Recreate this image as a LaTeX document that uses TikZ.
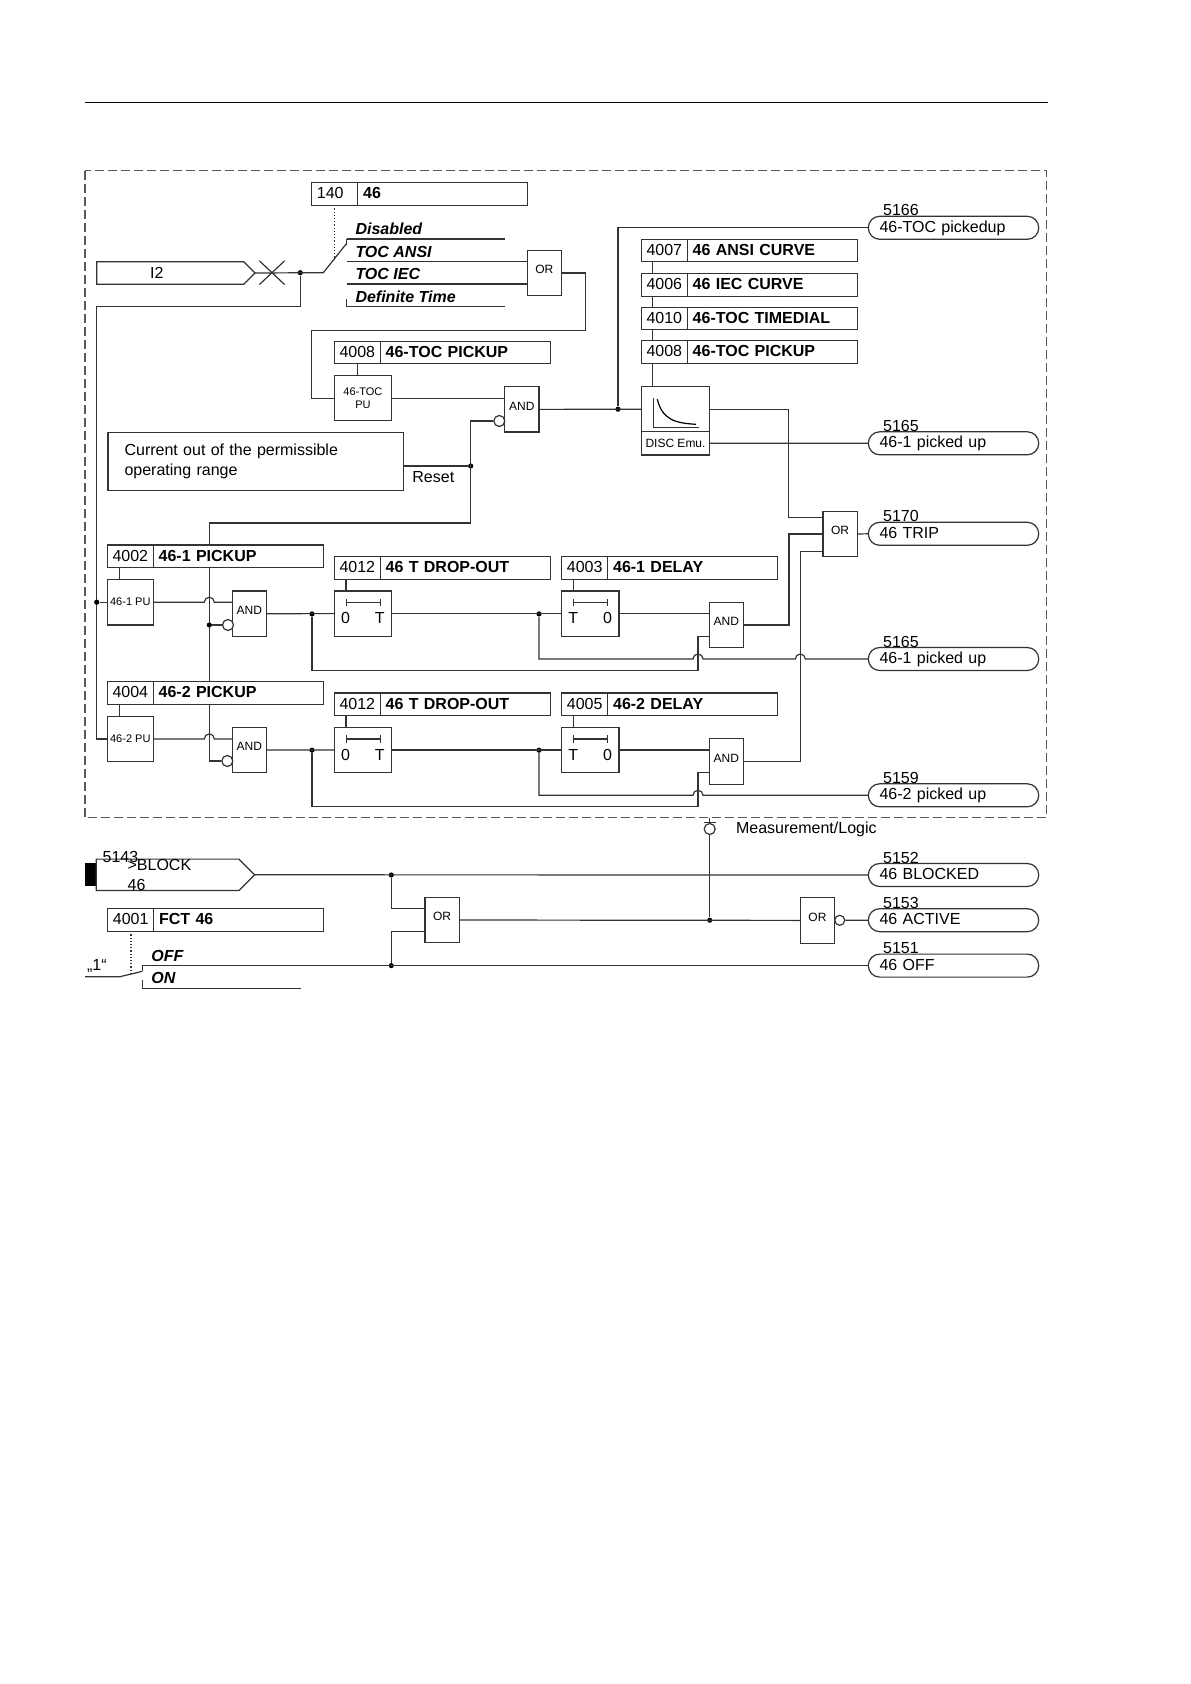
\documentclass[tikz,border=0pt]{standalone}
\usepackage{fontspec}
\setmainfont{Liberation Sans}
\usetikzlibrary{shapes.geometric, shapes.misc, shapes.symbols, arrows.meta, positioning, calc}

\begin{document}
\begin{tikzpicture}[
    x=0.5pt, y=-0.5pt,
    wire/.style={draw=black!80, line width=0.6pt},
    paramno/.style={draw=black!80, line width=0.6pt, fill=white, anchor=north west, minimum height=11.25pt,
        inner xsep=2.6pt, inner ysep=0pt, outer sep=0pt, text width=17.8pt, align=left,
        text height=5.75pt, text depth=0.9pt, font=\fontsize{8}{10}\selectfont},
    paramname/.style={draw=black!80, line width=0.6pt, fill=white, minimum height=11.25pt,
        inner xsep=2.7pt, inner ysep=0pt, outer sep=0pt, text width=79.6pt, align=left,
        text height=5.75pt, text depth=0.9pt, font=\fontsize{8}{10}\selectfont\bfseries},
    gate/.style={draw=black!80, line width=0.6pt, fill=white, anchor=north west, minimum width=17.1pt,
        minimum height=22.7pt, inner sep=0pt, outer sep=0pt, text height=4.3pt, text depth=3.6pt,
        font=\fontsize{6}{7}\selectfont},
    pubox/.style={draw=black!80, line width=0.6pt, fill=white, minimum width=23pt, minimum height=22.7pt,
        inner sep=0pt, outer sep=0pt, align=center, font=\fontsize{5.5}{6.7}\selectfont},
    timer/.style={draw=black!80, line width=0.6pt, fill=white, minimum width=28.6pt, minimum height=22.7pt,
        inner sep=0pt, outer sep=0pt, text height=10.3pt, text depth=0pt, font=\fontsize{8}{10}\selectfont},
    tmark/.style={draw=black!80, line width=0.6pt, {Bar[width=3.6pt]}-{Bar[width=3.6pt]}},
    pill/.style={draw=black!80, line width=0.6pt, rounded corners=5.7pt, anchor=west, minimum height=11.5pt,
        inner xsep=5.6pt, inner ysep=0pt, outer sep=0pt, text width=74pt, align=left,
        text height=5.75pt, text depth=1.15pt, font=\fontsize{8}{10}\selectfont},
    signo/.style={inner sep=0pt, text depth=0pt, font=\fontsize{8}{10}\selectfont},
    sigin/.style={draw=black!80, line width=0.6pt, signal, signal to=east, signal pointer angle=90, anchor=west,
        minimum width=79.15pt, minimum height=11.3pt, inner xsep=3pt, inner ysep=0pt, outer sep=0pt,
        font=\fontsize{8}{10}\selectfont},
    optlabel/.style={inner sep=0pt, text depth=0pt, font=\fontsize{8}{10}\selectfont\bfseries\itshape},
    plain/.style={inner sep=0pt, font=\fontsize{8}{10}\selectfont},
    dot/.style={circle, fill=black, inner sep=0pt, minimum size=2.6pt},
    neg/.style={circle, draw=black!80, line width=0.6pt, fill=white, inner sep=0pt, minimum size=5.5pt}
]
\useasboundingbox (0,0) rectangle (1190,1684);

% Page rule and frame
\coordinate (rulea) at (85,103);
\coordinate (ruleb) at (1048,103);
\draw[black, line width=0.5pt] (rulea) -- (ruleb);
\coordinate (framea) at (85,170.7);
\coordinate (frameb) at (1046.7,817.7);
\draw[black!65, line width=0.6pt, dash pattern=on 4.5pt off 2pt] (framea) rectangle (frameb);

% Characteristic selection
\node[paramno] (p140) at (311.7,182.7) {140};
\node[paramname, right=0pt of p140] (p140n) {46};
\node[sigin, text width=20pt] (i2) at (96.7,273) {I2};
\node[draw=black!80, line width=0.6pt, cross out, minimum width=12pt, minimum height=11.3pt, inner sep=0pt] (xm) at (272,272.7) {};
\node[dot] (j1) at (300.3,272.7) {};
\coordinate (sw1) at (323.3,272.7);
\coordinate (sw2) at (346.7,243.3);
\coordinate (c1) at (346.7,239);
\coordinate (c2) at (346.7,261.3);
\coordinate (c3) at (346.7,284);
\coordinate (c4) at (346.7,306.7);
\node[optlabel, above right=2pt and 4.2pt of c1] (ldis) {Disabled};
\node[optlabel, above right=1.9pt and 4.2pt of c2] (lansi) {TOC ANSI};
\node[optlabel, above right=1.9pt and 4.2pt of c3] (liec) {TOC IEC};
\node[optlabel, above right=1.9pt and 4.2pt of c4] (ldef) {Definite Time};
\node[gate] (or0) at (527.3,250.3) {OR};

% Pickup and disc emulation
\node[paramno] (p4008a) at (334.3,341.3) {4008};
\node[paramname, right=0pt of p4008a] (p4008an) {46-TOC PICKUP};
\node[pubox, minimum width=28.6pt, below right=5.85pt and 0pt of p4008a.south west] (tocpu) {46-TOC\\PU};
\node[gate] (and0) at (504.7,386.7) {AND};
\node[neg] (neg0) at (499.3,421) {};
\node[draw=black!80, line width=0.6pt, anchor=north west, minimum width=147.85pt, minimum height=29.2pt,
    inner xsep=8.3pt, inner ysep=0pt, text width=131.2pt, align=left, font=\fontsize{8}{10}\selectfont] (cur) at (107.3,431.7)
    {Current out of the permissible\\operating range};
\node[plain, anchor=west] (rst) at (412,476.7) {Reset};
\node[dot] (j3) at (470.7,466) {};

\node[paramno] (p4007) at (641.3,239.3) {4007};
\node[paramname, right=0pt of p4007] (p4007n) {46 ANSI CURVE};
\node[paramno, below=6pt of p4007] (p4006) {4006};
\node[paramname, right=0pt of p4006] (p4006n) {46 IEC CURVE};
\node[paramno, below=5.5pt of p4006] (p4010) {4010};
\node[paramname, right=0pt of p4010] (p4010n) {46-TOC TIMEDIAL};
\node[paramno, below=5.5pt of p4010] (p4008b) {4008};
\node[paramname, right=0pt of p4008b] (p4008bn) {46-TOC PICKUP};
\node[draw=black!80, line width=0.6pt, minimum width=34.2pt, minimum height=22.5pt, inner sep=0pt, outer sep=0pt,
    below right=11.7pt and 0pt of p4008b.south west] (disc) {};
\node[draw=black!80, line width=0.6pt, minimum width=34.2pt, minimum height=11.65pt, inner sep=0pt, outer sep=0pt,
    font=\fontsize{6}{7}\selectfont, below=0pt of disc] (emu) {DISC Emu.};
\node[dot] (j2) at (618,409.2) {};

% Outputs, upper part
\node[pill] (s5166) at (868.3,227.8) {46-TOC pickedup};
\node[signo, above right=0pt and 7.2pt of s5166.north west] (n5166) {5166};
\node[pill] (s5165a) at (868.3,443.3) {46-1 picked up};
\node[signo, above right=0pt and 7.2pt of s5165a.north west] (n5165a) {5165};
\node[pill] (s5170) at (868.3,533.8) {46 TRIP};
\node[signo, above right=0pt and 7.2pt of s5170.north west] (n5170) {5170};
\node[gate] (or1) at (823,511.3) {OR};

% Stage 46-1
\node[paramno] (p4002) at (107.3,545) {4002};
\node[paramname, right=0pt of p4002] (p4002n) {46-1 PICKUP};
\node[pubox, below right=6pt and 0pt of p4002.south west] (pu1) {46-1 PU};
\node[gate] (and1) at (232.3,591) {AND};
\node[neg] (neg1) at (228,625) {};
\node[dot] (j5) at (312,613.9) {};
\node[paramno] (p4012a) at (334.3,556.7) {4012};
\node[paramname, right=0pt of p4012a] (p4012an) {46 T DROP-OUT};
\node[timer, below right=5.85pt and 0pt of p4012a.south west] (t1) {0\hspace{12.5pt}T};
\node[dot] (j6) at (539,613.9) {};
\node[paramno] (p4003) at (561.7,556.7) {4003};
\node[paramname, right=0pt of p4003] (p4003n) {46-1 DELAY};
\node[timer, below right=5.85pt and 0pt of p4003.south west] (t2) {T\hspace{12.5pt}0};
\node[gate] (and2) at (709.3,602.3) {AND};
\node[pill] (s5165b) at (868.3,659) {46-1 picked up};
\node[signo, above right=0pt and 7.2pt of s5165b.north west] (n5165b) {5165};

% Stage 46-2
\node[paramno] (p4004) at (107.3,681.7) {4004};
\node[paramname, right=0pt of p4004] (p4004n) {46-2 PICKUP};
\node[pubox, below right=6pt and 0pt of p4004.south west] (pu2) {46-2 PU};
\node[gate] (and3) at (232.3,727.3) {AND};
\node[neg] (neg2) at (227.3,761) {};
\node[dot] (j7) at (312,750.2) {};
\node[paramno] (p4012b) at (334.3,693) {4012};
\node[paramname, right=0pt of p4012b] (p4012bn) {46 T DROP-OUT};
\node[timer, below right=5.85pt and 0pt of p4012b.south west] (t3) {0\hspace{12.5pt}T};
\node[dot] (j8) at (539,750.2) {};
\node[paramno] (p4005) at (561.7,693) {4005};
\node[paramname, right=0pt of p4005] (p4005n) {46-2 DELAY};
\node[timer, below right=5.85pt and 0pt of p4005.south west] (t4) {T\hspace{12.5pt}0};
\node[gate] (and4) at (709.3,738.7) {AND};
\node[pill] (s5159) at (868.3,795.3) {46-2 picked up};
\node[signo, above right=0pt and 7.2pt of s5159.north west] (n5159) {5159};

% Lower part
\node[neg] (neg3) at (709.7,829) {};
\node[plain, anchor=west] (mlog) at (735.7,829) {Measurement/Logic};
\coordinate (bara) at (704,822.7);
\coordinate (barb) at (715.7,822.7);
\node[fill=black, anchor=north west, minimum width=5.65pt, minimum height=11.5pt, inner sep=0pt, outer sep=0pt] (blk) at (85,863.3) {};
\node[sigin, text width=40pt, right=0pt of blk] (blk46) {>BLOCK 46};
\node[signo, anchor=south west] (n5143) at (102.3,863.3) {5143};
\node[pill] (s5152) at (868.3,875) {46 BLOCKED};
\node[signo, above right=0pt and 7.2pt of s5152.north west] (n5152) {5152};
\node[pill] (s5153) at (868.3,920.2) {46 ACTIVE};
\node[signo, above right=0pt and 7.2pt of s5153.north west] (n5153) {5153};
\node[pill] (s5151) at (868.3,965.6) {46 OFF};
\node[signo, above right=0pt and 7.2pt of s5151.north west] (n5151) {5151};
\node[gate] (or2) at (425,897.3) {OR};
\node[gate] (or3) at (800.3,897.7) {OR};
\node[neg, minimum size=5pt] (neg4) at (839.7,920.3) {};
\node[dot] (j9) at (391.3,875) {};
\node[dot] (j10) at (391.3,965.6) {};
\node[dot] (j11) at (709.7,920.2) {};
\node[paramno] (p4001) at (107.7,908.7) {4001};
\node[paramname, right=0pt of p4001] (p4001n) {FCT 46};
\coordinate (c5) at (142.3,965.6);
\coordinate (c6) at (142.3,988.3);
\coordinate (sw3) at (120,976.7);
\coordinate (sw4) at (142.3,971.3);
\coordinate (sw0) at (85,976.7);
\node[optlabel, above right=1.7pt and 4.3pt of c5] (loff) {OFF};
\node[optlabel, above right=2pt and 4.3pt of c6] (lon) {ON};
\node[plain, anchor=west] (one) at (86.7,966) {„1“};

% Selector wiring
\draw[wire] (i2.east) -- (sw1) -- (sw2);
\draw[wire, densely dotted] ([xshift=11.5pt]p140.south west) -- ++(0,53);
\draw[wire] (c1) -- ++(158.3,0);
\draw[wire] (c1) -- ++(0,6);
\draw[wire] (c2) -- (c2 -| or0.west);
\draw[wire] (c3) -- (c3 -| or0.west);
\draw[wire] (c4) -- ++(158.3,0);
\draw[wire] (c4) -- ++(0,-8);
\draw[wire] (or0.east) -- ++(23.7,0) |- ++(-274,57.3) |- (tocpu.west);
\draw[wire] ([xshift=11.5pt]p4008a.south west) -- ([xshift=11.5pt]tocpu.north west);
\draw[wire] (tocpu.east) -- (tocpu.east -| and0.west);
\draw[wire] (cur.east |- j3) -- (j3);
\coordinate (r0) at (470.7,523);
\coordinate (r1) at (209.3,523);
\draw[wire] (neg0.west) -| (r0) -- (r1) -- (r1 |- p4002n.north);
\draw[wire] (r1 |- p4002n.south) -- (r1 |- p4004n.north);
\draw[wire] (r1 |- p4004n.south) |- (neg2.west);

% Current branch to the stages
\coordinate (k0) at (96.7,306.7);
\draw[wire] (j1) |- (k0) |- (pu2.west);
\node[dot] (j4) at (k0 |- pu1.west) {};
\draw[wire] (j4) -- (pu1.west);
\node[dot] (j12) at (r1 |- neg1) {};
\draw[wire] (j12) -- (neg1.west);

% Disc emulation wiring
\draw[wire] (and0.east) -- (disc.west);
\draw[wire] (j2) |- (s5166.west);
\draw[wire] ([xshift=5.5pt]p4007.south west) -- ([xshift=5.5pt]p4006.north west);
\draw[wire] ([xshift=5.5pt]p4006.south west) -- ([xshift=5.5pt]p4010.north west);
\draw[wire] ([xshift=5.5pt]p4010.south west) -- ([xshift=5.5pt]p4008b.north west);
\draw[wire] ([xshift=5.5pt]p4008b.south west) -- ([xshift=5.5pt]disc.north west);
\draw[black!80, line width=0.5pt] ([shift={(12,11)}]disc.north west) |- ([shift={(58,40.6)}]disc.north west);
\draw[black, line width=0.6pt] ([shift={(16,12.6)}]disc.north west) .. controls ([shift={(21,33)}]disc.north west) and ([shift={(34,36.5)}]disc.north west) .. ([shift={(54.7,37.6)}]disc.north west);
\draw[wire] (emu.east) -- (s5165a.west);
\coordinate (x1) at (788.7,517.3);
\coordinate (x3) at (800.3,551.3);
\draw[wire] (disc.east) -| (x1) -- (x1 -| or1.west);
\draw[wire] (or1.east) -- (s5170.west);

% Stage 46-1 wiring
\draw[wire] ([xshift=6pt]p4002.south west) -- ([xshift=6pt]pu1.north west);
\draw[wire] (pu1.east) -- ++(51,0) arc[start angle=180, end angle=0, radius=2.5pt] -- ++(8,0) -- (pu1.east -| and1.west);
\draw[wire] (and1.east) -- (t1.west);
\draw[wire] ([xshift=5.85pt]p4012a.south west) -- ([xshift=5.85pt]t1.north west);
\draw[tmark] ([shift={(11.4,11.7)}]t1.north west) -- ([shift={(-10.7,11.7)}]t1.north east);
\draw[wire] (t1.east) -- (t2.west);
\draw[wire] ([xshift=5.85pt]p4003.south west) -- ([xshift=5.85pt]t2.north west);
\draw[tmark] ([shift={(11.4,11.7)}]t2.north west) -- ([shift={(-10.7,11.7)}]t2.north east);
\draw[wire] (t2.east) -- (t2.east -| and2.west);
\coordinate (k1) at (698,670.3);
\coordinate (a2in) at (709.3,636.3);
\draw[wire] (j5) |- (k1) |- (a2in);
\draw[wire] (j6) -- (j6 |- s5165b.west) -- ++(154,0) arc[start angle=180, end angle=0, radius=2.5pt] -- ++(92.3,0) arc[start angle=180, end angle=0, radius=2.5pt] -- (s5165b.west);
\draw[wire] (and2.east) -- ++(45.4,0) |- (or1.west);

% Stage 46-2 wiring
\draw[wire] ([xshift=6pt]p4004.south west) -- ([xshift=6pt]pu2.north west);
\draw[wire] (pu2.east) -- ++(51,0) arc[start angle=180, end angle=0, radius=2.5pt] -- (pu2.east -| and3.west);
\draw[wire] (and3.east) -- (t3.west);
\draw[wire] ([xshift=5.85pt]p4012b.south west) -- ([xshift=5.85pt]t3.north west);
\draw[tmark] ([shift={(11.4,11.7)}]t3.north west) -- ([shift={(-10.7,11.7)}]t3.north east);
\draw[wire] (t3.east) -- (t4.west);
\draw[wire] ([xshift=5.85pt]p4005.south west) -- ([xshift=5.85pt]t4.north west);
\draw[tmark] ([shift={(11.4,11.7)}]t4.north west) -- ([shift={(-10.7,11.7)}]t4.north east);
\draw[wire] (t4.east) -- (t4.east -| and4.west);
\coordinate (k2) at (698,806.7);
\coordinate (a4in) at (709.3,772.7);
\draw[wire] (j7) |- (k2) |- (a4in);
\draw[wire] (j8) -- (j8 |- s5159.west) -- ++(154,0) arc[start angle=180, end angle=0, radius=2.5pt] -- (s5159.west);
\draw[wire] (and4.east) -| (x3) -- (x3 -| or1.west);

% Lower part wiring
\draw[wire] (bara) -- (barb);
\draw[wire] (neg3 |- frameb) -- (neg3.north);
\draw[wire] (neg3.south) -- (j11);
\draw[wire] (blk46.east) -- (s5152.west);
\coordinate (o2a) at (425,908.7);
\coordinate (o2b) at (425,931.7);
\draw[wire] (j9) |- (o2a);
\draw[wire] (j10) |- (o2b);
\draw[wire] (or2.east) -- (or3.west);
\draw[wire] (neg4.east) -- (s5153.west);
\draw[wire] (c5) -- (s5151.west);
\draw[wire] (c5) -- ++(0,5.4);
\draw[wire] (c6) -- ++(158.7,0);
\draw[wire] (c6) -- ++(0,-8.3);
\draw[wire] (sw0) -- (sw3) -- (sw4);
\draw[wire, densely dotted] ([xshift=11.65pt]p4001.south west) -- ++(0,42.3);

\end{tikzpicture}
\end{document}
